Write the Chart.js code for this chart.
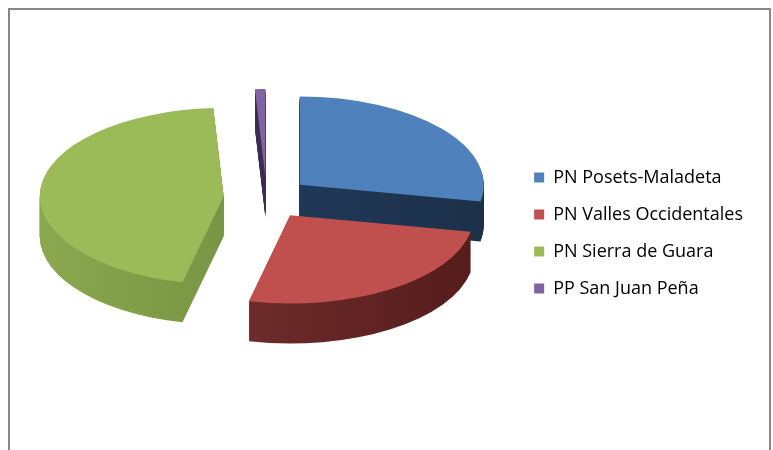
<!DOCTYPE html>
<html>
<head>
<meta charset="utf-8">
<script src="https://cdn.jsdelivr.net/npm/chart.js@4.4.0/dist/chart.umd.min.js"></script>
<style>
  body { margin: 0; background: #fff; }
  #wrap { position: relative; width: 773px; height: 450px; overflow: hidden; }
  #frame { position: absolute; left: 8px; top: 8px; width: 759px; height: 470px; border: 2px solid #878787; }
  canvas { position: absolute; left: 0; top: 0; }
</style>
</head>
<body>
<div id="wrap">
  <div id="frame"></div>
  <canvas id="chart" width="773" height="450"></canvas>
</div>
<script>
// parks and their share
const parks = ['PN Posets-Maladeta', 'PN Valles Occidentales', 'PN Sierra de Guara', 'PP San Juan Peña'];
const shares = [28.0, 25.6, 45.5, 0.9];

const topColors = ['#4f81bd', '#c0504d', '#9bbb59', '#8064a2'];
// side colours: left (lit) -> right (shade)
const sideColors = [
    ['#24406a', '#1c3048'],
    ['#7c3434', '#561c1c'],
    ['#8aa84e', '#66833a'],
    ['#4a3866', '#2c1f3d']
];

const tilt = 0.48;    // vertical squash of the pie
const depth = 40;     // thickness of the pie in px
const lift = 35;      // pie sits higher than the legend centre
const explode = 43;   // how far each slice is pulled out

function sliceShift(arc) {
    const mid = (arc.startAngle + arc.endAngle) / 2;
    return [Math.cos(mid) * explode, Math.sin(mid) * explode];
}

// fake 3D: squash the pie, pull the slices apart and stack darker copies under them
const pie3d = {
    id: 'pie3d',
    beforeDatasetsDraw(chart) {
        const ctx = chart.ctx;
        const arcs = chart.getDatasetMeta(0).data;
        const cx = arcs[0].x;
        const cy = arcs[0].y;
        ctx.save();
        ctx.translate(cx, cy - lift);
        ctx.scale(1, tilt);
        ctx.translate(-cx, -cy);

        for (let d = depth; d > 0; d--) {
            arcs.forEach((arc, i) => {
                const [ox, oy] = sliceShift(arc);
                ctx.save();
                ctx.translate(ox, oy + d / tilt);
                const r = arc.outerRadius;
                const g = ctx.createLinearGradient(cx - r, 0, cx + r, 0);
                g.addColorStop(0, sideColors[i][0]);
                g.addColorStop(1, sideColors[i][1]);
                const orig = arc.options;
                arc.options = Object.assign({}, orig, { backgroundColor: g });
                arc.draw(ctx);
                arc.options = orig;
                ctx.restore();
            });
        }

        arcs.forEach(arc => {
            const [ox, oy] = sliceShift(arc);
            ctx.save();
            ctx.translate(ox, oy);
            arc.draw(ctx);
            ctx.restore();
        });

        ctx.restore();
        return false;
    }
};

new Chart(document.getElementById('chart'), {
    type: 'pie',
    data: {
        labels: parks,
        datasets: [{
            data: shares,
            backgroundColor: topColors,
            borderWidth: 0,
            radius: 184
        }]
    },
    options: {
        responsive: false,
        animation: false,
        layout: { padding: { top: 86, bottom: 70, left: 18, right: 20 } },
        plugins: {
            legend: {
                position: 'right',
                labels: {
                    font: { family: 'Open Sans', size: 18 },
                    color: '#000',
                    boxWidth: 10,
                    boxHeight: 10,
                    padding: 19
                }
            },
            tooltip: { enabled: false }
        }
    },
    plugins: [pie3d]
});
</script>
</body>
</html>
